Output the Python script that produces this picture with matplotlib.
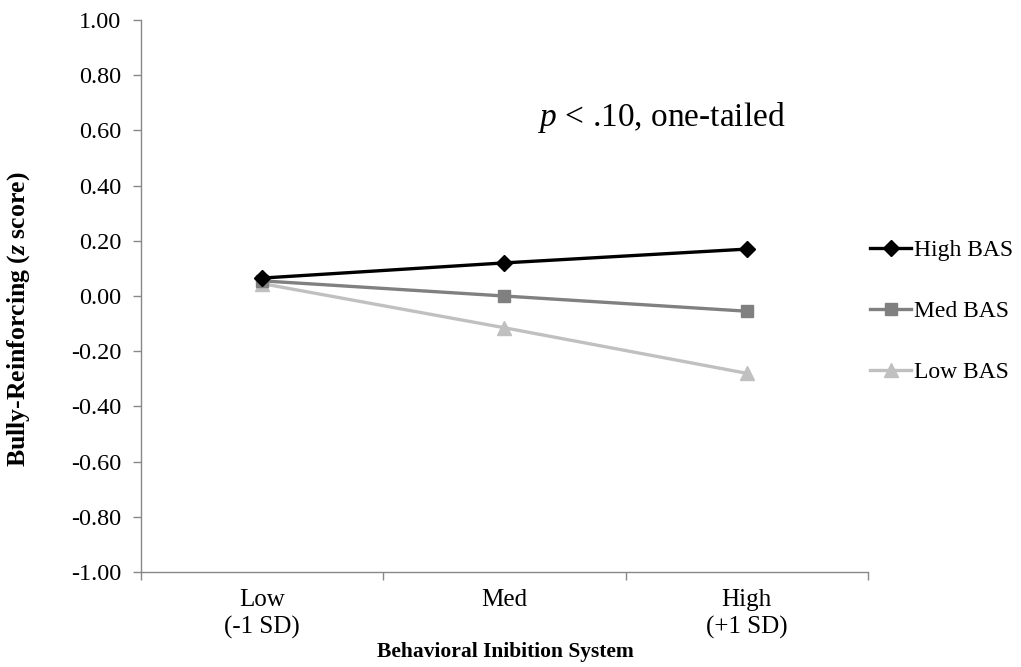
import matplotlib
matplotlib.use("Agg")
import matplotlib.pyplot as plt
from matplotlib.ticker import FormatStrFormatter

plt.rcParams['font.family'] = ['Liberation Serif', 'DejaVu Serif']
plt.rcParams['mathtext.fontset'] = 'custom'
plt.rcParams['mathtext.rm'] = 'Liberation Serif'
plt.rcParams['mathtext.it'] = 'Liberation Serif:italic'
plt.rcParams['mathtext.bf'] = 'Liberation Serif:bold'
plt.rcParams['mathtext.bfit'] = 'Liberation Serif:italic:bold'

categories = ["Low\n(-1 SD)", "Med", "High\n(+1 SD)"]
high_bas = [0.065, 0.12, 0.17]
med_bas = [0.055, 0.00, -0.055]
low_bas = [0.045, -0.115, -0.28]
series_names = ["High BAS", "Med BAS", "Low BAS"]
yticks = [1.0, 0.8, 0.6, 0.4, 0.2, 0.0, -0.2, -0.4, -0.6, -0.8, -1.0]

fig = plt.figure(figsize=(10.21, 6.67), dpi=100)
ax = fig.add_axes([0.138, 0.1424, 0.712, 0.8276])

x = [0, 1, 2]
ax.plot(x, high_bas, color='black', lw=2.4, marker='D', ms=8, label=series_names[0], zorder=5)
ax.plot(x, med_bas, color='#808080', lw=2.4, marker='s', ms=9, label=series_names[1], zorder=4)
ax.plot(x, low_bas, color='#c0c0c0', lw=2.4, marker='^', ms=10, label=series_names[2], zorder=3)

ax.set_xlim(-0.5, 2.5)
ax.set_ylim(-1.0, 1.0)
ax.set_yticks(yticks)
ax.yaxis.set_major_formatter(FormatStrFormatter('%.2f'))
ax.set_xticks(x)
ax.set_xticklabels(categories, fontsize=18, linespacing=1.3)
ax.set_xticks([-0.5, 0.5, 1.5, 2.5], minor=True)
ax.tick_params(axis='x', which='major', length=0, pad=12)
ax.tick_params(axis='x', which='minor', length=6, color='#888888', width=1)
ax.tick_params(axis='y', length=6, color='#888888', width=1, labelsize=17.5, pad=8)
for s in ['top', 'right']:
    ax.spines[s].set_visible(False)
for s in ['left', 'bottom']:
    ax.spines[s].set_color('#888888')
    ax.spines[s].set_linewidth(1)

fig.text(0.018, 0.522, r"Bully-Reinforcing ($\mathbfit{z}$ score)", rotation=90,
         fontsize=18.5, fontweight='bold', ha='center', va='center')
fig.text(0.495, 0.022, "Behavioral Inibition System", fontsize=15.5, fontweight='bold',
         ha='center', va='center')
ax.text(1.65, 0.645, r"$p$ < .10, one-tailed", fontsize=24, ha='center', va='center')

fig.legend(loc='upper left', bbox_to_anchor=(0.843, 0.655), frameon=False,
           fontsize=17, handlelength=1.75, handletextpad=0.1, labelspacing=1.67,
           borderaxespad=0)

fig.savefig("out.png", dpi=100)
